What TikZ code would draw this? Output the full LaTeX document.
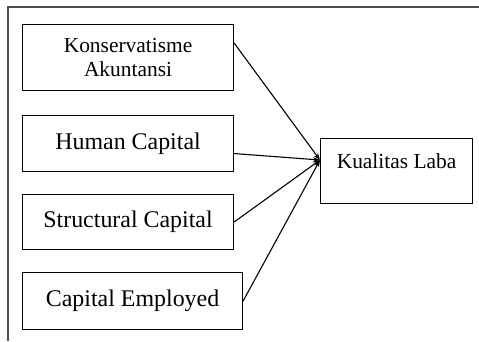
\documentclass[tikz,border=0pt]{standalone}
\usepackage{fontspec}
\setmainfont{Liberation Serif}
\usetikzlibrary{arrows.meta}
\definecolor{framegray}{HTML}{505050}
\tikzset{
  box/.style={draw=black, line width=1.1bp, anchor=north west, inner sep=0pt, align=center},
  link/.style={draw=black, line width=1.1bp, -{Stealth[length=7bp,width=5bp]}},
  frameline/.style={draw=framegray, line width=1.4bp}
}
\begin{document}
\begin{tikzpicture}[x=1bp,y=-1bp]
\useasboundingbox (0,0) rectangle (479,341);
\draw[frameline] (8,341) -- (8,7) -- (479,7);
\node[box, minimum width=211bp, minimum height=66bp, font=\fontsize{21.5}{25}\selectfont] (k1) at (22,24) {Konservatisme\\Akuntansi};
\node[box, minimum width=211bp, minimum height=56bp, font=\fontsize{24}{26}\selectfont] (k2) at (22,115) {Human Capital};
\node[box, minimum width=211bp, minimum height=55bp, font=\fontsize{24}{26}\selectfont] (k3) at (22,194) {Structural Capital};
\node[box, minimum width=220bp, minimum height=57bp, font=\fontsize{24}{26}\selectfont] (k4) at (22,272) {Capital Employed};
\node[box, minimum width=152bp, minimum height=65bp, text depth=20bp, font=\fontsize{21.5}{24}\selectfont] (kl) at (320,138) {Kualitas Laba};
\coordinate (hub) at ([yshift=-22bp]kl.north west);
\draw[link] ([yshift=-19bp]k1.north east) -- (hub);
\draw[link] ([yshift=-10bp]k2.east) -- (hub);
\draw[link] (k3.east) -- (hub);
\draw[link] (k4.east) -- (hub);
\end{tikzpicture}
\end{document}
